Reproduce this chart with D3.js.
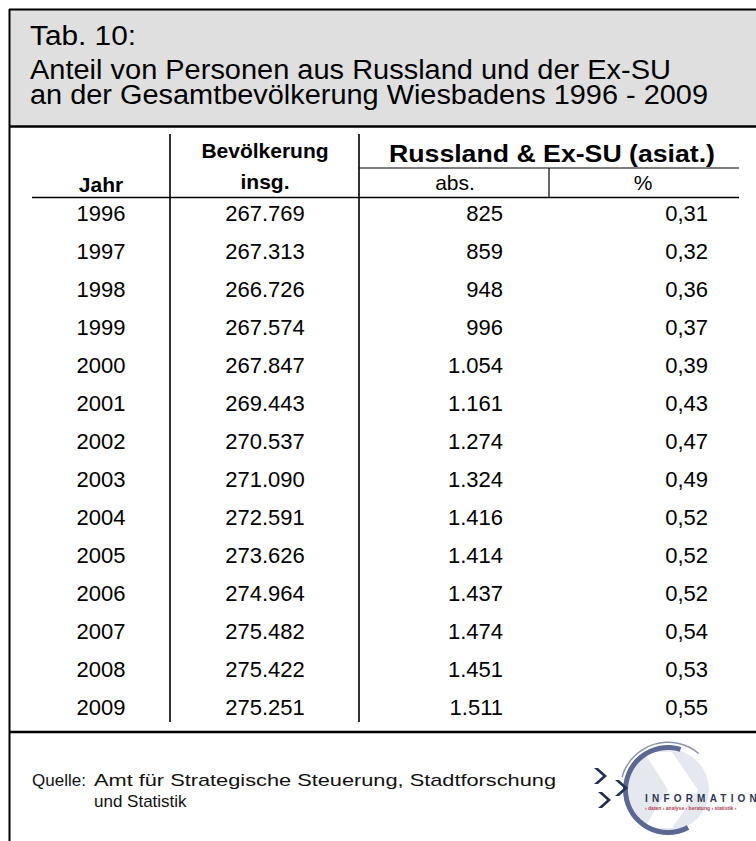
<!DOCTYPE html>
<html>
<head>
<meta charset="utf-8">
<script src="https://cdn.jsdelivr.net/npm/d3@7"></script>
<style>
  html, body { margin: 0; padding: 0; background: #fff; }
  svg { display: block; font-family: "Liberation Sans", Arial, sans-serif; }
</style>
</head>
<body>
<div id="chart"></div>
<script>
// Table data (Tab. 10)
const years = [1996, 1997, 1998, 1999, 2000, 2001, 2002, 2003, 2004, 2005, 2006, 2007, 2008, 2009];
const population = [267769, 267313, 266726, 267574, 267847, 269443, 270537, 271090, 272591, 273626, 274964, 275482, 275422, 275251];
const russAbs = [825, 859, 948, 996, 1054, 1161, 1274, 1324, 1416, 1414, 1437, 1474, 1451, 1511];
const russPct = [0.31, 0.32, 0.36, 0.37, 0.39, 0.43, 0.47, 0.49, 0.52, 0.52, 0.52, 0.54, 0.53, 0.55];

const titleLines = [
  'Tab. 10:',
  'Anteil von Personen aus Russland und der Ex-SU',
  'an der Gesamtbevölkerung Wiesbadens 1996 - 2009'
];
const sourceLines = ['Amt für Strategische Steuerung, Stadtforschung', 'und Statistik'];

const width = 756, height = 841;
const de = d3.formatLocale({ decimal: ',', thousands: '.', grouping: [3], currency: ['', ' €'] });
const fmtInt = de.format(',d');
const fmtPct = de.format('.2f');

const rows = years.map((y, i) => ({ year: y, pop: population[i], abs: russAbs[i], pct: russPct[i] }));

const svg = d3.select('#chart').append('svg')
  .attr('width', width)
  .attr('height', height);

svg.append('rect').attr('width', width).attr('height', height).attr('fill', '#fff');

// Title band
svg.append('rect')
  .attr('x', 9).attr('y', 9)
  .attr('width', width).attr('height', 117)
  .attr('fill', '#dfdfdf');

// title runs a little wider than Liberation Sans, so pin its extent
const titleLen = [106, 641, 678];
svg.append('g').selectAll('text')
  .data(titleLines)
  .enter().append('text')
  .attr('x', 30)
  .attr('y', (d, i) => [45, 79, 104][i])
  .attr('font-size', 27)
  .attr('textLength', (d, i) => titleLen[i])
  .attr('lengthAdjust', 'spacingAndGlyphs')
  .attr('fill', '#000')
  .text(d => d);

// Frame lines
const frame = svg.append('g').attr('stroke', '#000').attr('fill', 'none');
frame.append('line').attr('x1', 9).attr('x2', width).attr('y1', 9.5).attr('y2', 9.5).attr('stroke-width', 2);
frame.append('line').attr('x1', 9.5).attr('x2', 9.5).attr('y1', 9).attr('y2', height).attr('stroke-width', 2);
frame.append('line').attr('x1', 9).attr('x2', width).attr('y1', 126.5).attr('y2', 126.5).attr('stroke-width', 2.5);
frame.append('line').attr('x1', 9).attr('x2', width).attr('y1', 732).attr('y2', 732).attr('stroke-width', 2.5);

// Columns
const colJahr = 101, colBev = 265, colAbsR = 503, colPctR = 708;
const vLines = [170, 359];

const y = d3.scaleBand()
  .domain(years)
  .range([194, 726]);

const grid = svg.append('g').attr('stroke', '#000');
vLines.forEach(x => {
  grid.append('line').attr('x1', x).attr('x2', x).attr('y1', 134).attr('y2', 722).attr('stroke-width', 1.6);
});
grid.append('line').attr('x1', 549).attr('x2', 549).attr('y1', 168).attr('y2', 197).attr('stroke-width', 1.2);
grid.append('line').attr('x1', 32).attr('x2', 739).attr('y1', 197.5).attr('y2', 197.5).attr('stroke-width', 1.6);
grid.append('line').attr('x1', 359).attr('x2', 739).attr('y1', 168).attr('y2', 168).attr('stroke-width', 1.2);

// Column headers
const head = svg.append('g').attr('font-size', 21).attr('fill', '#000');
head.append('text').attr('x', colJahr).attr('y', 192).attr('text-anchor', 'middle').attr('font-weight', 'bold').text('Jahr');
head.append('text').attr('x', colBev).attr('y', 158).attr('text-anchor', 'middle').attr('font-weight', 'bold').text('Bevölkerung');
head.append('text').attr('x', colBev).attr('y', 189).attr('text-anchor', 'middle').attr('font-weight', 'bold').text('insg.');
head.append('text').attr('x', 389).attr('y', 162)
  .attr('font-size', 23)
  .attr('font-weight', 'bold')
  .attr('textLength', 326).attr('lengthAdjust', 'spacingAndGlyphs')
  .text('Russland & Ex-SU (asiat.)');
head.append('text').attr('x', 455).attr('y', 190).attr('text-anchor', 'middle').text('abs.');
head.append('text').attr('x', 643).attr('y', 190).attr('text-anchor', 'middle').text('%');

// Body rows
const body = svg.append('g').attr('font-size', 22).attr('fill', '#000');
const row = body.selectAll('g.row')
  .data(rows)
  .enter().append('g')
  .attr('class', 'row')
  .attr('transform', d => `translate(0,${y(d.year) + y.bandwidth() / 2 + 8})`);

row.append('text').attr('x', colJahr).attr('text-anchor', 'middle').text(d => d.year);
row.append('text').attr('x', colBev).attr('text-anchor', 'middle').text(d => fmtInt(d.pop));
row.append('text').attr('x', colAbsR).attr('text-anchor', 'end').text(d => fmtInt(d.abs));
row.append('text').attr('x', colPctR).attr('text-anchor', 'end').text(d => fmtPct(d.pct));

// Source
const src = svg.append('g').attr('font-size', 17).attr('fill', '#111');
src.append('text').attr('x', 32).attr('y', 786).text('Quelle:');
src.selectAll('text.src')
  .data(sourceLines)
  .enter().append('text')
  .attr('class', 'src')
  .attr('x', 94)
  .attr('y', (d, i) => 786 + i * 21)
  .attr('textLength', (d, i) => i === 0 ? 462 : null)
  .attr('lengthAdjust', 'spacingAndGlyphs')
  .text(d => d);

// Logo
const logo = svg.append('g').attr('transform', 'translate(668,790)');
logo.append('circle').attr('r', 41).attr('fill', '#e6e8f0');
logo.append('path')
  .attr('d', 'M-24,-38 L4,-38 L30,0 L4,38 L-24,38 L0,0 Z')
  .attr('fill', '#fff');
const arc = d3.arc();
logo.append('path')
  .attr('d', arc({ innerRadius: 40, outerRadius: 45, startAngle: 2.65 - 2 * Math.PI, endAngle: 0.3 }))
  .attr('fill', '#5c6892');
logo.append('path')
  .attr('d', arc({ innerRadius: 47, outerRadius: 48.5, startAngle: -1.3, endAngle: 0.7 }))
  .attr('fill', '#8a93b5');
const chev = 'M-4,-8 L5,0 L-4,8 L-8,8 L1,0 L-8,-8 Z';
[[-66, -14], [-45, -2], [-62, 10]].forEach(p => {
  logo.append('path').attr('d', chev).attr('transform', `translate(${p[0]},${p[1]})`).attr('fill', '#22334f');
});
logo.append('text')
  .attr('x', -23).attr('y', 12)
  .attr('font-size', 10).attr('font-weight', 'bold')
  .attr('letter-spacing', 4.2)
  .attr('fill', '#2b3552')
  .text('INFORMATION');
logo.append('text')
  .attr('x', -23).attr('y', 20)
  .attr('font-size', 5).attr('font-weight', 'bold')
  .attr('fill', '#b04050')
  .text('› daten › analyse › beratung › statistik ›');
</script>
</body>
</html>
